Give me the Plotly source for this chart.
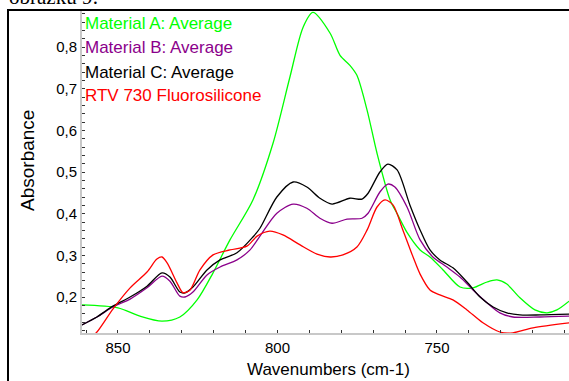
import plotly.graph_objects as go

# ---- data (wavenumber cm-1, absorbance) ----
wn_a = [861.3, 850.0, 843.1, 836.2, 830.6, 825.2, 820.2, 814.9, 807.7, 801.4, 796.1, 792.0, 788.9,
        783.5, 780.4, 777.3, 775.1, 771.9, 768.8, 764.7, 762.5, 759.4, 755.3, 752.2, 748.1, 742.8,
        738.7, 734.3, 731.2, 728.1, 724.0, 719.3, 715.5, 712.4, 708.6]
abs_a = [0.181, 0.174, 0.154, 0.142, 0.152, 0.193, 0.258, 0.337, 0.433, 0.569, 0.728, 0.847, 0.883,
         0.833, 0.780, 0.756, 0.732, 0.648, 0.545, 0.433, 0.400, 0.355, 0.313, 0.296, 0.265, 0.224,
         0.222, 0.236, 0.241, 0.231, 0.198, 0.169, 0.162, 0.169, 0.190]

wn_b = [861.3, 856.6, 851.6, 846.2, 840.9, 836.2, 833.7, 830.6, 829.0, 826.5, 822.1, 818.0, 812.7,
        808.6, 805.5, 800.2, 795.1, 790.8, 786.7, 782.9, 778.2, 773.5, 771.6, 767.9, 765.4, 763.2,
        759.4, 755.3, 751.3, 746.9, 742.8, 738.7, 734.3, 730.3, 726.2, 717.7, 708.6]
abs_b = [0.133, 0.152, 0.176, 0.195, 0.222, 0.250, 0.238, 0.202, 0.200, 0.212, 0.253, 0.272, 0.289,
         0.313, 0.346, 0.401, 0.423, 0.413, 0.389, 0.377, 0.387, 0.389, 0.401, 0.452, 0.471, 0.464,
         0.416, 0.337, 0.296, 0.272, 0.248, 0.217, 0.186, 0.162, 0.152, 0.152, 0.154]

wn_c = [861.3, 856.6, 851.6, 846.2, 840.9, 836.2, 833.7, 830.6, 829.0, 826.5, 822.1, 818.0, 812.7,
        807.7, 805.5, 800.2, 795.1, 790.8, 786.7, 782.9, 777.3, 773.5, 771.6, 767.9, 765.4, 762.5,
        758.5, 755.3, 752.2, 749.1, 745.0, 740.6, 736.5, 732.4, 728.1, 724.0, 717.7, 708.6]
abs_c = [0.133, 0.152, 0.178, 0.200, 0.226, 0.258, 0.248, 0.212, 0.210, 0.224, 0.265, 0.289, 0.306,
         0.344, 0.365, 0.440, 0.476, 0.464, 0.437, 0.423, 0.437, 0.435, 0.449, 0.500, 0.519, 0.505,
         0.421, 0.361, 0.313, 0.289, 0.270, 0.236, 0.200, 0.176, 0.162, 0.157, 0.157, 0.159]

wn_r = [859.4, 856.6, 851.6, 846.2, 840.9, 837.8, 836.2, 834.6, 831.5, 829.6, 827.4, 824.3, 820.2,
        814.9, 809.6, 806.4, 802.4, 798.3, 792.9, 787.6, 783.5, 779.5, 775.1, 771.9, 768.8, 766.3,
        763.8, 760.7, 757.5, 755.3, 752.2, 749.1, 745.0, 740.6, 735.6, 730.3, 726.2, 719.9, 708.6]
abs_r = [0.097, 0.116, 0.171, 0.222, 0.260, 0.291, 0.296, 0.282, 0.234, 0.210, 0.217, 0.265, 0.301,
         0.313, 0.322, 0.346, 0.358, 0.349, 0.325, 0.303, 0.296, 0.301, 0.320, 0.361, 0.416, 0.433,
         0.421, 0.361, 0.296, 0.255, 0.217, 0.205, 0.193, 0.169, 0.138, 0.116, 0.114, 0.126, 0.138]

series_names = ["Material A: Average", "Material B: Average", "Material C: Average",
                "RTV 730 Fluorosilicone"]
series_colors = ["#00ff00", "#8b008b", "#000000", "#ff0000"]
series_x = [wn_a, wn_b, wn_c, wn_r]
series_y = [abs_a, abs_b, abs_c, abs_r]

x_title = "Wavenumbers (cm-1)"
y_title = "Absorbance"
caption = "obrázku 9:"

FONT = "Liberation Sans, Arial, sans-serif"

fig = go.Figure()
for xs, ys, name, col in zip(series_x, series_y, series_names, series_colors):
    fig.add_trace(go.Scatter(x=xs, y=ys, mode="lines", name=name, hoverinfo="skip",
                             line=dict(color=col, width=1.3, shape="spline", smoothing=0.8)))

W, H = 569, 381
L, R, T, B = 82, 0, 10, 48
pw, ph = W - L - R, H - T - B

def px(xp):
    return (xp - L) / pw

def py(yp):
    return 1 - (yp - T) / ph

annotations = []
legend_y = [23, 47, 72, 96]
for name, col, yy in zip(series_names, series_colors, legend_y):
    annotations.append(dict(text=name, x=px(83), y=py(yy), xref="paper", yref="paper",
                            xanchor="left", yanchor="middle", showarrow=False,
                            font=dict(family=FONT, size=17, color=col)))
annotations.append(dict(text=y_title, x=px(27), y=py(161), xref="paper", yref="paper",
                        xanchor="center", yanchor="middle", textangle=-90, showarrow=False,
                        font=dict(family=FONT, size=19, color="#000")))
annotations.append(dict(text=x_title, x=px(328), y=py(369), xref="paper", yref="paper",
                        xanchor="center", yanchor="middle", showarrow=False,
                        font=dict(family=FONT, size=17, color="#000")))
annotations.append(dict(text=caption, x=px(7), y=py(-17), xref="paper", yref="paper",
                        xanchor="left", yanchor="top", showarrow=False,
                        font=dict(family="Liberation Serif, Times New Roman, serif", size=21,
                                  color="#000")))

fig.update_layout(
    width=W, height=H,
    margin=dict(l=L, r=R, t=T, b=B, pad=0),
    paper_bgcolor="white", plot_bgcolor="white",
    showlegend=False,
    hovermode=False,
    separators=", ",
    annotations=annotations,
    shapes=[dict(type="rect", xref="paper", yref="paper",
                 x0=px(8), x1=1.05, y0=-0.5, y1=1.0,
                 line=dict(color="#000", width=2), layer="above")],
)
fig.update_xaxes(range=[861.28, 708.62], showgrid=False, zeroline=False,
                 showline=True, linecolor="#c8c8c8", linewidth=2,
                 tickmode="array", tickvals=[850, 800, 750], ticktext=["850", "800", "750"],
                 ticks="inside", ticklen=3, tickcolor="#333",
                 minor=dict(dtick=10, tick0=0, ticks="inside", ticklen=3, tickcolor="#333"),
                 tickfont=dict(family=FONT, size=15, color="#000"))
fig.update_yaxes(range=[0.1136, 0.8888], showgrid=False, zeroline=False,
                 showline=True, linecolor="#c8c8c8", linewidth=2,
                 dtick=0.1, tick0=0, tickformat=".1f",
                 ticks="inside", ticklen=3, tickcolor="#333",
                 minor=dict(dtick=0.02, tick0=0, ticks="inside", ticklen=3, tickcolor="#333"),
                 tickfont=dict(family=FONT, size=15, color="#000"))

fig.write_html("out.html", config={"displayModeBar": False, "staticPlot": True},
               post_script="document.body.style.margin='0';document.body.style.overflow='hidden';")
